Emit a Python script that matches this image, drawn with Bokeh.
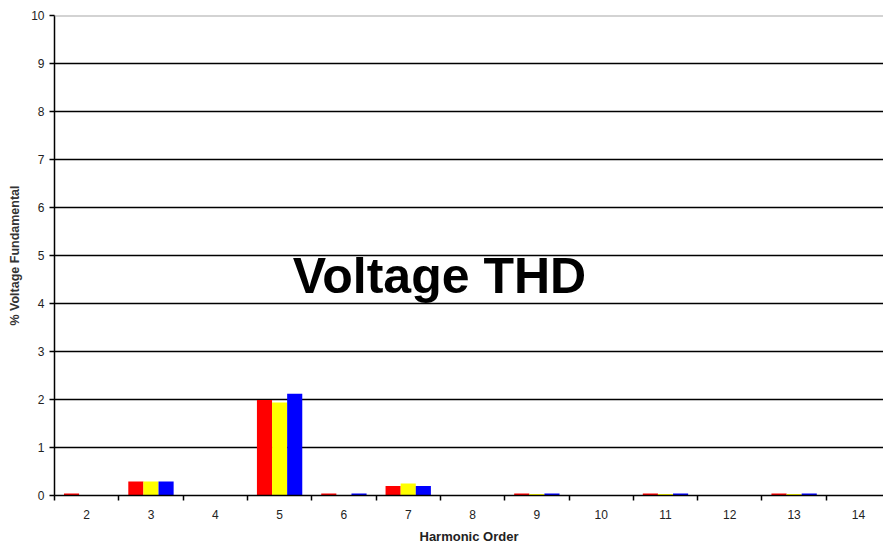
from bokeh.plotting import figure
from bokeh.models import ColumnDataSource, FixedTicker, Range1d, Span, Label
from bokeh.transform import dodge
from bokeh.embed import file_html
from bokeh.resources import INLINE

harmonics = [2, 3, 4, 5, 6, 7, 8, 9, 10, 11, 12, 13, 14]
phase_a = [0.04, 0.29, 0.0, 1.99, 0.04, 0.20, 0.0, 0.04, 0.0, 0.04, 0.0, 0.04, 0.0]
phase_b = [0.0, 0.29, 0.0, 1.94, 0.0, 0.25, 0.0, 0.03, 0.0, 0.03, 0.0, 0.03, 0.0]
phase_c = [0.0, 0.29, 0.0, 2.12, 0.04, 0.20, 0.0, 0.04, 0.0, 0.04, 0.0, 0.04, 0.0]
y_ticks = [0, 1, 2, 3, 4, 5, 6, 7, 8, 9, 10]
title_text = "Voltage THD"
x_title = "Harmonic Order"
y_title = "% Voltage Fundamental"

src = ColumnDataSource(dict(h=harmonics, a=phase_a, b=phase_b, c=phase_c))

FONT = "Liberation Sans"
p = figure(width=883, height=546, output_backend="svg", toolbar_location=None,
           x_range=Range1d(1.5, 14.39), y_range=Range1d(0, 10),
           min_border_left=54, min_border_right=0, min_border_top=15, min_border_bottom=51)
p.outline_line_color = None
p.background_fill_color = "white"
p.border_fill_color = "white"

bw = 0.235
p.vbar(x=dodge('h', -bw, range=p.x_range), top='a', width=bw, source=src,
       fill_color="#ff0000", line_color=None)
p.vbar(x=dodge('h', 0.0, range=p.x_range), top='b', width=bw, source=src,
       fill_color="#ffff00", line_color=None)
p.vbar(x=dodge('h', bw, range=p.x_range), top='c', width=bw, source=src,
       fill_color="#0000ff", line_color=None)

# grid
p.xgrid.visible = False
p.ygrid.ticker = FixedTicker(ticks=y_ticks[1:-1])
p.ygrid.grid_line_color = "black"
p.ygrid.grid_line_width = 1.5
p.add_layout(Span(location=y_ticks[-1], dimension="width", line_color="#a8a8a8", line_width=2))

# x axis
xa = p.xaxis[0]
xa.ticker = FixedTicker(ticks=harmonics, minor_ticks=[h - 0.5 for h in harmonics] + [harmonics[-1] + 0.5])
xa.major_tick_line_color = None
xa.minor_tick_line_color = "black"
xa.minor_tick_line_width = 1.5
xa.minor_tick_out = 5
xa.minor_tick_in = 0
xa.axis_line_color = "black"
xa.axis_line_width = 1.5
xa.major_label_standoff = 8
xa.major_label_text_font = FONT
xa.major_label_text_font_size = "12px"
xa.major_label_text_color = "#222222"
xa.axis_label = x_title
xa.axis_label_text_font = FONT
xa.axis_label_text_font_size = "13px"
xa.axis_label_text_font_style = "bold"
xa.axis_label_text_color = "#222222"
xa.axis_label_standoff = 7

# y axis
ya = p.yaxis[0]
ya.ticker = FixedTicker(ticks=y_ticks)
ya.major_tick_line_color = "black"
ya.major_tick_line_width = 1.5
ya.major_tick_out = 5
ya.major_tick_in = 0
ya.minor_tick_line_color = None
ya.axis_line_color = "black"
ya.axis_line_width = 1.5
ya.major_label_standoff = 5
ya.major_label_text_font = FONT
ya.major_label_text_font_size = "12px"
ya.major_label_text_color = "#222222"
ya.axis_label = y_title
ya.axis_label_text_font = FONT
ya.axis_label_text_font_size = "12.5px"
ya.axis_label_text_font_style = "bold"
ya.axis_label_text_color = "#333333"
ya.axis_label_standoff = 6

p.add_layout(Label(x=7.485, y=4.58, text=title_text, text_align="center",
                   text_baseline="alphabetic", text_font=FONT, text_font_size="50px",
                   text_font_style="bold", text_color="black"))

open("out.html", "w").write(file_html(p, INLINE))
